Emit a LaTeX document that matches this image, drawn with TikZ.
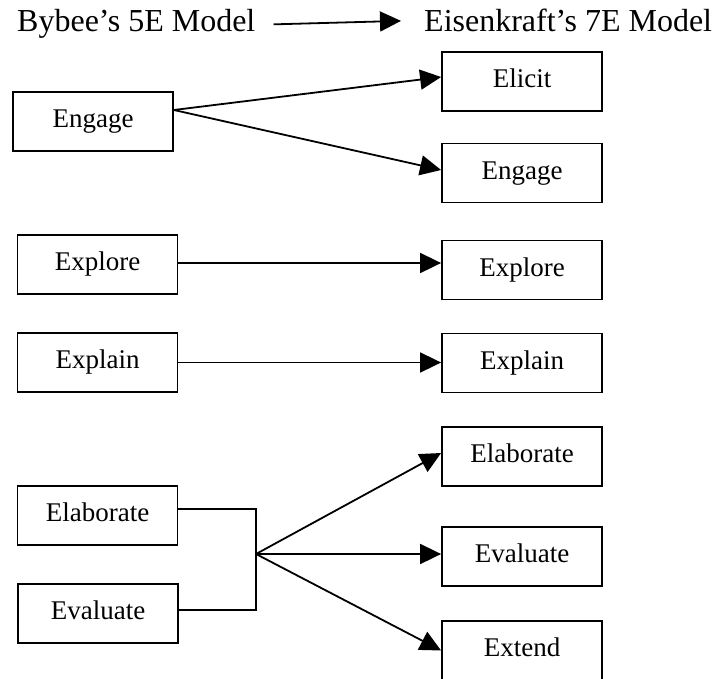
\documentclass[tikz,border=0pt]{standalone}
\usepackage{fontspec}
\setmainfont{Liberation Serif}
\usetikzlibrary{arrows.meta}
\tikzset{
  phase/.style={draw, line width=1.8pt, minimum width=160pt, minimum height=59pt,
    inner sep=0pt, text height=18pt, text depth=6pt,
    font=\fontsize{27}{31}\selectfont},
  heading/.style={anchor=base west, inner sep=0pt, font=\fontsize{32}{38}\selectfont},
  flow/.style={line width=1.8pt, -{Triangle[length=21pt,width=20pt]}},
  link/.style={line width=1.8pt}
}
\begin{document}
\begin{tikzpicture}[x=1pt, y=-1pt]
    \useasboundingbox (0,0) rectangle (715,678);

    \node [heading] (five) at (17,31) {Bybee’s 5E Model};
    \node [heading] (seven) at (424,31) {Eisenkraft’s 7E Model};
    \draw [flow] ([xshift=18pt,yshift=-1pt]five.east) -- ([xshift=-23pt,yshift=-1pt]seven.west);

    \node [phase] (lengage) at (93,121.5) {Engage};
    \node [phase] (lexplore) at (97.5,264.5) {Explore};
    \node [phase] (lexplain) at (97.5,362.5) {Explain};
    \node [phase] (lelab) at (97.5,515.5) {Elaborate};
    \node [phase] (leval) at (98,613.5) {Evaluate};

    \node [phase] (relicit) at (522,81.5) {Elicit};
    \node [phase] (rengage) at (522,173) {Engage};
    \node [phase] (rexplore) at (522,270) {Explore};
    \node [phase] (rexplain) at (522,363) {Explain};
    \node [phase] (relab) at (522,456.5) {Elaborate};
    \node [phase] (reval) at (522,556.5) {Evaluate};
    \node [phase] (rextend) at (522,650.5) {Extend};

    \draw [flow] ([yshift=11.5pt]lengage.east) -- ([yshift=4.5pt]relicit.west);
    \draw [flow] ([yshift=11.5pt]lengage.east) -- ([yshift=3pt]rengage.west);
    \draw [flow] ([yshift=1.5pt]lexplore.east) -- ([yshift=1.5pt]lexplore.east -| rexplore.west);
    \draw [flow] (lexplain.east) -- (lexplain.east -| rexplain.west);

    \coordinate (fan) at (256,554);
    \draw [link] ([yshift=6.5pt]lelab.east) -| (fan) |- ([yshift=3.5pt]leval.east);
    \draw [flow] (fan) -- ([yshift=3.5pt]relab.west);
    \draw [flow] (fan) -- (fan -| reval.west);
    \draw [flow] (fan) -- (rextend.west);
\end{tikzpicture}
\end{document}
